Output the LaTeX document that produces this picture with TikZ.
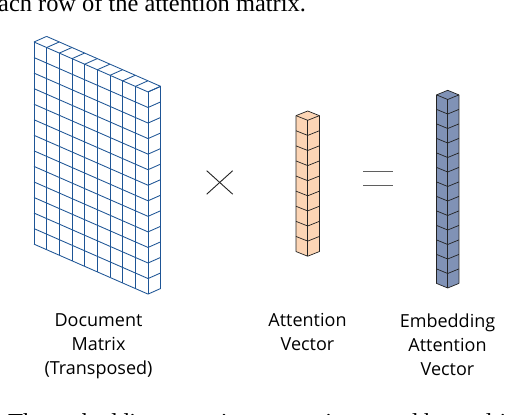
\documentclass[tikz,border=0pt]{standalone}
\usepackage{fontspec}
\setmainfont{Liberation Serif}
\newfontfamily\labelfont{Open Sans}
\definecolor{gridblue}{RGB}{30,85,150}
\definecolor{peach}{RGB}{252,213,181}
\definecolor{slate}{RGB}{128,146,182}
\definecolor{edge}{RGB}{35,35,35}
\definecolor{eqgray}{RGB}{95,95,95}
\newcommand\cubecolumn[7]{%
  \filldraw[fill=#7, draw=edge, line width=.7pt]
    ({#1-#3},{#2+#4}) -- (#1,#2) -- ({#1+#3},{#2+#4}) -- ({#1+#3},{#2+#4+#6*#5})
    -- ({#1},{#2+2*#4+#6*#5}) -- ({#1-#3},{#2+#4+#6*#5}) -- cycle;
  \draw[draw=edge, line width=.7pt] ({#1-#3},{#2+#4}) -- ({#1},{#2+2*#4}) -- ({#1+#3},{#2+#4});
  \draw[draw=edge, line width=.7pt] ({#1},{#2+2*#4}) -- ({#1},{#2+2*#4+#6*#5});
  \pgfmathtruncatemacro\cubelast{#6-1}%
  \foreach \k in {1,...,\cubelast}{%
    \draw[draw=edge, line width=.7pt] ({#1-#3},{#2+#4+\k*#5}) -- ({#1},{#2+2*#4+\k*#5}) -- ({#1+#3},{#2+#4+\k*#5});
  }%
}
\begin{document}
\begin{tikzpicture}[x=1pt,y=-1pt, line join=round,
  mline/.style={draw=gridblue, line width=0.85pt},
  lab/.style={font=\labelfont\fontsize{18}{24}\selectfont, align=center, anchor=north, inner sep=0pt},
  captext/.style={inner sep=0pt, font=\fontsize{24.4}{29}\selectfont}]
\clip (0,0) rectangle (518,414);
\fill[white] (0,0) rectangle (518,414);

% captions cut by the frame
\node[captext, anchor=base east] (captop) at (306,11.5) {each row of the attention matrix.};
\node[captext, anchor=base west] (capbot) at (8,430) {The embedding attention vector is created by multiplying the};

% document matrix
\def\mx{34}\def\my{42}\def\cx{12.67}\def\cy{5.55}\def\rh{15.55}\def\dx{12.6}\def\dy{5.6}
\fill[white] (\mx,\my) -- ++(\dx,-\dy) -- ++({9*\cx},{9*\cy}) -- ++(0,{13*\rh}) -- ++(-\dx,\dy) -- ++({-9*\cx},{-9*\cy}) -- cycle;
\foreach \i in {0,...,9}
  \draw[mline] ({\mx+\i*\cx},{\my+\i*\cy}) -- ++(0,{13*\rh});
\foreach \j in {0,...,13}
  \draw[mline] (\mx,{\my+\j*\rh}) -- ++({9*\cx},{9*\cy});
\foreach \i in {0,...,9}
  \draw[mline] ({\mx+\i*\cx},{\my+\i*\cy}) -- ++(\dx,-\dy);
\draw[mline] ({\mx+\dx},{\my-\dy}) -- ++({9*\cx},{9*\cy});
\foreach \j in {0,...,13}
  \draw[mline] ({\mx+9*\cx},{\my+9*\cy+\j*\rh}) -- ++(\dx,-\dy);
\draw[mline] ({\mx+9*\cx+\dx},{\my+9*\cy-\dy}) -- ++(0,{13*\rh});

% times and equals
\draw[line width=0.9pt, edge] (206.7,170.7) -- (232.7,194.2);
\draw[line width=0.9pt, edge] (206.7,194.2) -- (232.7,170.7);
\draw[line width=1.2pt, eqgray] (363.3,171.7) -- (393.3,171.7);
\draw[line width=1.2pt, eqgray] (363.3,185.7) -- (393.3,185.7);

% vectors
\cubecolumn{307.7}{111}{11.7}{4.65}{15.1}{9}{peach}
\cubecolumn{447.7}{90.3}{11.2}{4.6}{14.5}{13}{slate}

% labels
\node[lab] (docl) at (98.5,313.5) {Document\\Matrix\\(Transposed)};
\node[lab] (attl) at (307.5,313.5) {Attention\\Vector};
\node[lab] (embl) at (447.5,313.5) {Embedding\\Attention\\Vector};
\end{tikzpicture}
\end{document}
